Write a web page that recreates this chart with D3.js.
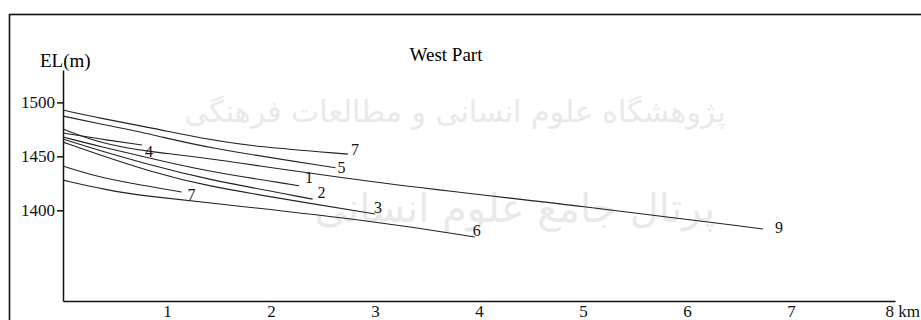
<!DOCTYPE html>
<html lang="en">
<head>
  <meta charset="UTF-8">
  <title>West Part</title>
  <style>
    body {
      margin: 0;
      background: #fff;
      font-family: "Liberation Serif", "Times New Roman", serif;
    }
    svg { display: block; }
    .axis path, .axis line { stroke: #111; stroke-width: 1.5; }
    .axis text { font-family: "Liberation Serif", serif; font-size: 17px; fill: #111; }
    .profile { fill: none; stroke: #222; stroke-width: 1.1; }
    .lbl { font-family: "Liberation Serif", serif; font-size: 16px; fill: #111; }
  </style>
</head>
<body>
  <div id="chart"></div>

  <script src="https://d3js.org/d3.v7.min.js"></script>
  <script>
    // Tick labels
    const xTicks = [1, 2, 3, 4, 5, 6, 7, 8];
    const yTicks = [1400, 1450, 1500];

    // Profiles: [distance km, elevation m]
    const profile7a = [[0, 1492.9], [0.36, 1485.2], [0.88, 1475.9], [1.32, 1466.7], [1.85, 1458.9], [2.74, 1452.1]];
    const profile5  = [[0, 1487.3], [0.36, 1480.0], [0.88, 1470.0], [1.32, 1458.9], [2.62, 1439.4]];
    const profile9  = [[0, 1475.3], [0.36, 1462.0], [0.84, 1454.0], [1.32, 1449.6], [3.05, 1424.4], [5.07, 1403.3], [6.73, 1382.7]];
    const profile4  = [[0, 1471.6], [0.36, 1466.0], [0.76, 1460.5]];
    const profile1  = [[0, 1467.9], [0.36, 1459.0], [0.84, 1448.4], [1.32, 1437.3], [2.27, 1422.8]];
    const profile2  = [[0, 1466.0], [0.36, 1455.0], [0.84, 1442.0], [1.32, 1429.9], [2.40, 1410.4]];
    const profile3  = [[0, 1463.2], [0.36, 1451.0], [0.84, 1436.0], [1.32, 1423.4], [2.40, 1406.1], [3.00, 1396.6]];
    const profile7b = [[0, 1441.0], [0.30, 1432.0], [0.65, 1425.0], [1.14, 1417.0]];
    const profile6  = [[0, 1428.0], [0.40, 1419.0], [0.84, 1412.6], [1.32, 1408.0], [3.05, 1389.4], [3.96, 1375.3]];

    const profiles = [profile7a, profile5, profile9, profile4, profile1, profile2, profile3, profile7b, profile6];
    const profileNames = ["7", "5", "9", "4", "1", "2", "3", "7", "6"];

    // label nudges from the line end (px)
    const labelNudge = [[3, 1], [2, 5], [12, 4], [3, 12], [6, -3], [5, -1], [-1, -1], [6, 8], [-2, -1]];

    const W = 921, H = 320;

    const svg = d3.select("#chart")
      .append("svg")
      .attr("width", W)
      .attr("height", H);

    // watermark of the source site
    const wm = svg.append("g")
      .attr("fill", "#e9e9e9")
      .attr("font-family", "DejaVu Sans, sans-serif")
      .attr("text-anchor", "middle");
    wm.append("text")
      .attr("x", 455).attr("y", 122)
      .attr("font-size", 30)
      .text("پژوهشگاه علوم انسانی و مطالعات فرهنگی");
    wm.append("text")
      .attr("x", 515).attr("y", 222)
      .attr("font-size", 40)
      .text("پرتال جامع علوم انسانی");

    // outer frame
    svg.append("rect")
      .attr("x", 9.5).attr("y", 14.5)
      .attr("width", W).attr("height", H)
      .attr("fill", "none")
      .attr("stroke", "#111")
      .attr("stroke-width", 1.6);

    const x = d3.scaleLinear().domain([0, 8]).range([63, 895]);
    const y = d3.scaleLinear().domain([1316, 1530]).range([301, 70]);

    // X axis
    const xAxis = svg.append("g")
      .attr("class", "axis")
      .attr("transform", `translate(0,${y(1316)})`)
      .call(d3.axisBottom(x).tickValues(xTicks).tickSize(0).tickSizeOuter(0).tickPadding(4)
        .tickFormat(d => d === 8 ? "8 km" : d));
    xAxis.selectAll(".tick")
      .filter(d => d === 8)
      .select("text")
      .attr("text-anchor", "start")
      .attr("x", -10);

    // Y axis
    svg.append("g")
      .attr("class", "axis")
      .attr("transform", `translate(${x(0)},0)`)
      .call(d3.axisLeft(y).tickValues(yTicks).tickFormat(d3.format("d"))
        .tickSize(6).tickSizeOuter(0).tickPadding(2));

    svg.append("text")
      .attr("x", 40).attr("y", 67)
      .attr("font-size", 19)
      .text("EL(m)");

    svg.append("text")
      .attr("x", 446).attr("y", 61)
      .attr("text-anchor", "middle")
      .attr("font-size", 19)
      .text("West Part");

    const line = d3.line()
      .x(d => x(d[0]))
      .y(d => y(d[1]))
      .curve(d3.curveBasis);

    svg.selectAll(".profile")
      .data(profiles)
      .enter()
      .append("path")
      .attr("class", "profile")
      .attr("d", line);

    svg.selectAll(".lbl")
      .data(profiles)
      .enter()
      .append("text")
      .attr("class", "lbl")
      .attr("x", (d, i) => x(d[d.length - 1][0]) + labelNudge[i][0])
      .attr("y", (d, i) => y(d[d.length - 1][1]) + labelNudge[i][1])
      .text((d, i) => profileNames[i]);
  </script>
</body>
</html>
